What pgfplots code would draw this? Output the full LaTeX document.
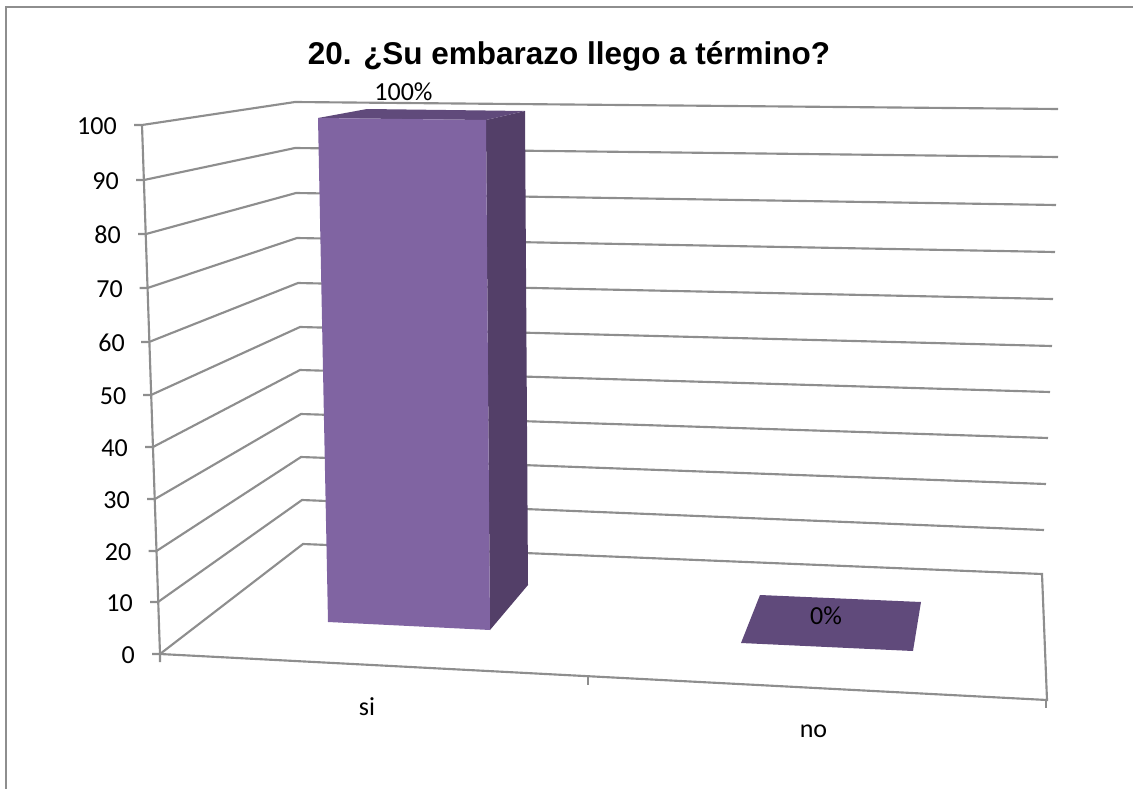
\documentclass[border=0pt]{standalone}
\usepackage{pgfplots}
\pgfplotsset{compat=1.18}
\usepackage{fontspec}
\setmainfont{Carlito}
\newfontfamily\titlefont{Liberation Sans}
\definecolor{gridc}{RGB}{142,142,142}
\definecolor{barfront}{RGB}{128,100,162}
\definecolor{barside}{RGB}{83,63,104}
\definecolor{bartop}{RGB}{96,74,123}
\newcommand{\gline}[1]{\addplot[gridc,line width=1.6pt,line join=miter] coordinates {#1};}
\newcommand{\ytl}[3]{\node[anchor=east,inner sep=0pt,font=\fontsize{19.5pt}{22pt}\selectfont] at (axis cs:#2,#3) {#1};}
\begin{document}
\begin{tikzpicture}
\useasboundingbox (0,0) rectangle (849.75pt,591.75pt);
\begin{axis}[
  at={(0,0)},anchor=south west,
  scale only axis,width=849.75pt,height=591.75pt,
  xmin=0,xmax=1133,ymin=0,ymax=789,y dir=reverse,
  hide axis,clip=false,
]
% chart frame
\addplot[gridc,line width=2pt] coordinates {(6,789) (6,7) (1133,7)};
% gridlines: tick, front-left, back-left, back-right (value 100 down to 10)
\gline{(134,125) (142,125) (295,102) (1058,109)}
\gline{(136,180) (144,180) (295,148) (1058,157)}
\gline{(138,234) (146,234) (296,193) (1056,205)}
\gline{(139.5,288) (147.5,288) (297,238) (1055,252)}
\gline{(141,342) (149,342) (298,283) (1053,299)}
\gline{(143,395) (151,395) (300,327) (1052,346)}
\gline{(145,447) (153,447) (300,370) (1050,392)}
\gline{(147,499) (155,499) (301,414) (1048,438)}
\gline{(148.5,551) (156.5,551) (301,457) (1046,484)}
\gline{(150,602) (158,602) (302,500) (1044,530)}
% floor
\gline{(152,654) (160,654) (303,544) (1042,574) (1047,700) (160,654)}
% left wall edge
\gline{(142,125) (160,654) (160,662)}
% category ticks
\gline{(588,677) (588,685)}
\gline{(1046,700) (1046,708)}
% bar "si" = 100
\addplot[draw=none,fill=barside] coordinates {(486,120) (525,111) (528,585) (490,630)} -- cycle;
\addplot[draw=none,fill=bartop] coordinates {(318,118) (367,109) (525,111) (486,120)} -- cycle;
\addplot[draw=none,fill=barfront] coordinates {(318,118) (486,120) (490,630) (328,622)} -- cycle;
% bar "no" = 0
\addplot[draw=none,fill=bartop] coordinates {(760,595) (921,602) (913,651) (741,643)} -- cycle;
% labels
\node[font=\titlefont\bfseries\fontsize{23.6pt}{26pt}\selectfont] at (axis cs:569,56) {20. ¿Su embarazo llego a término?};
\node[font=\fontsize{19.5pt}{22pt}\selectfont] at (axis cs:403.5,92) {100\%};
\node[font=\fontsize{19.5pt}{22pt}\selectfont] at (axis cs:826,616) {0\%};
\node[font=\fontsize{19.5pt}{22pt}\selectfont] at (axis cs:367,707) {si};
\node[font=\fontsize{19.5pt}{22pt}\selectfont] at (axis cs:813.5,731) {no};
\ytl{100}{117}{126}
\ytl{90}{119}{181}
\ytl{80}{121}{235}
\ytl{70}{123}{289}
\ytl{60}{125}{343}
\ytl{50}{126.5}{396}
\ytl{40}{128}{448}
\ytl{30}{130}{500}
\ytl{20}{131.5}{552}
\ytl{10}{133}{603}
\ytl{0}{135}{655}
\end{axis}
\end{tikzpicture}
\end{document}
